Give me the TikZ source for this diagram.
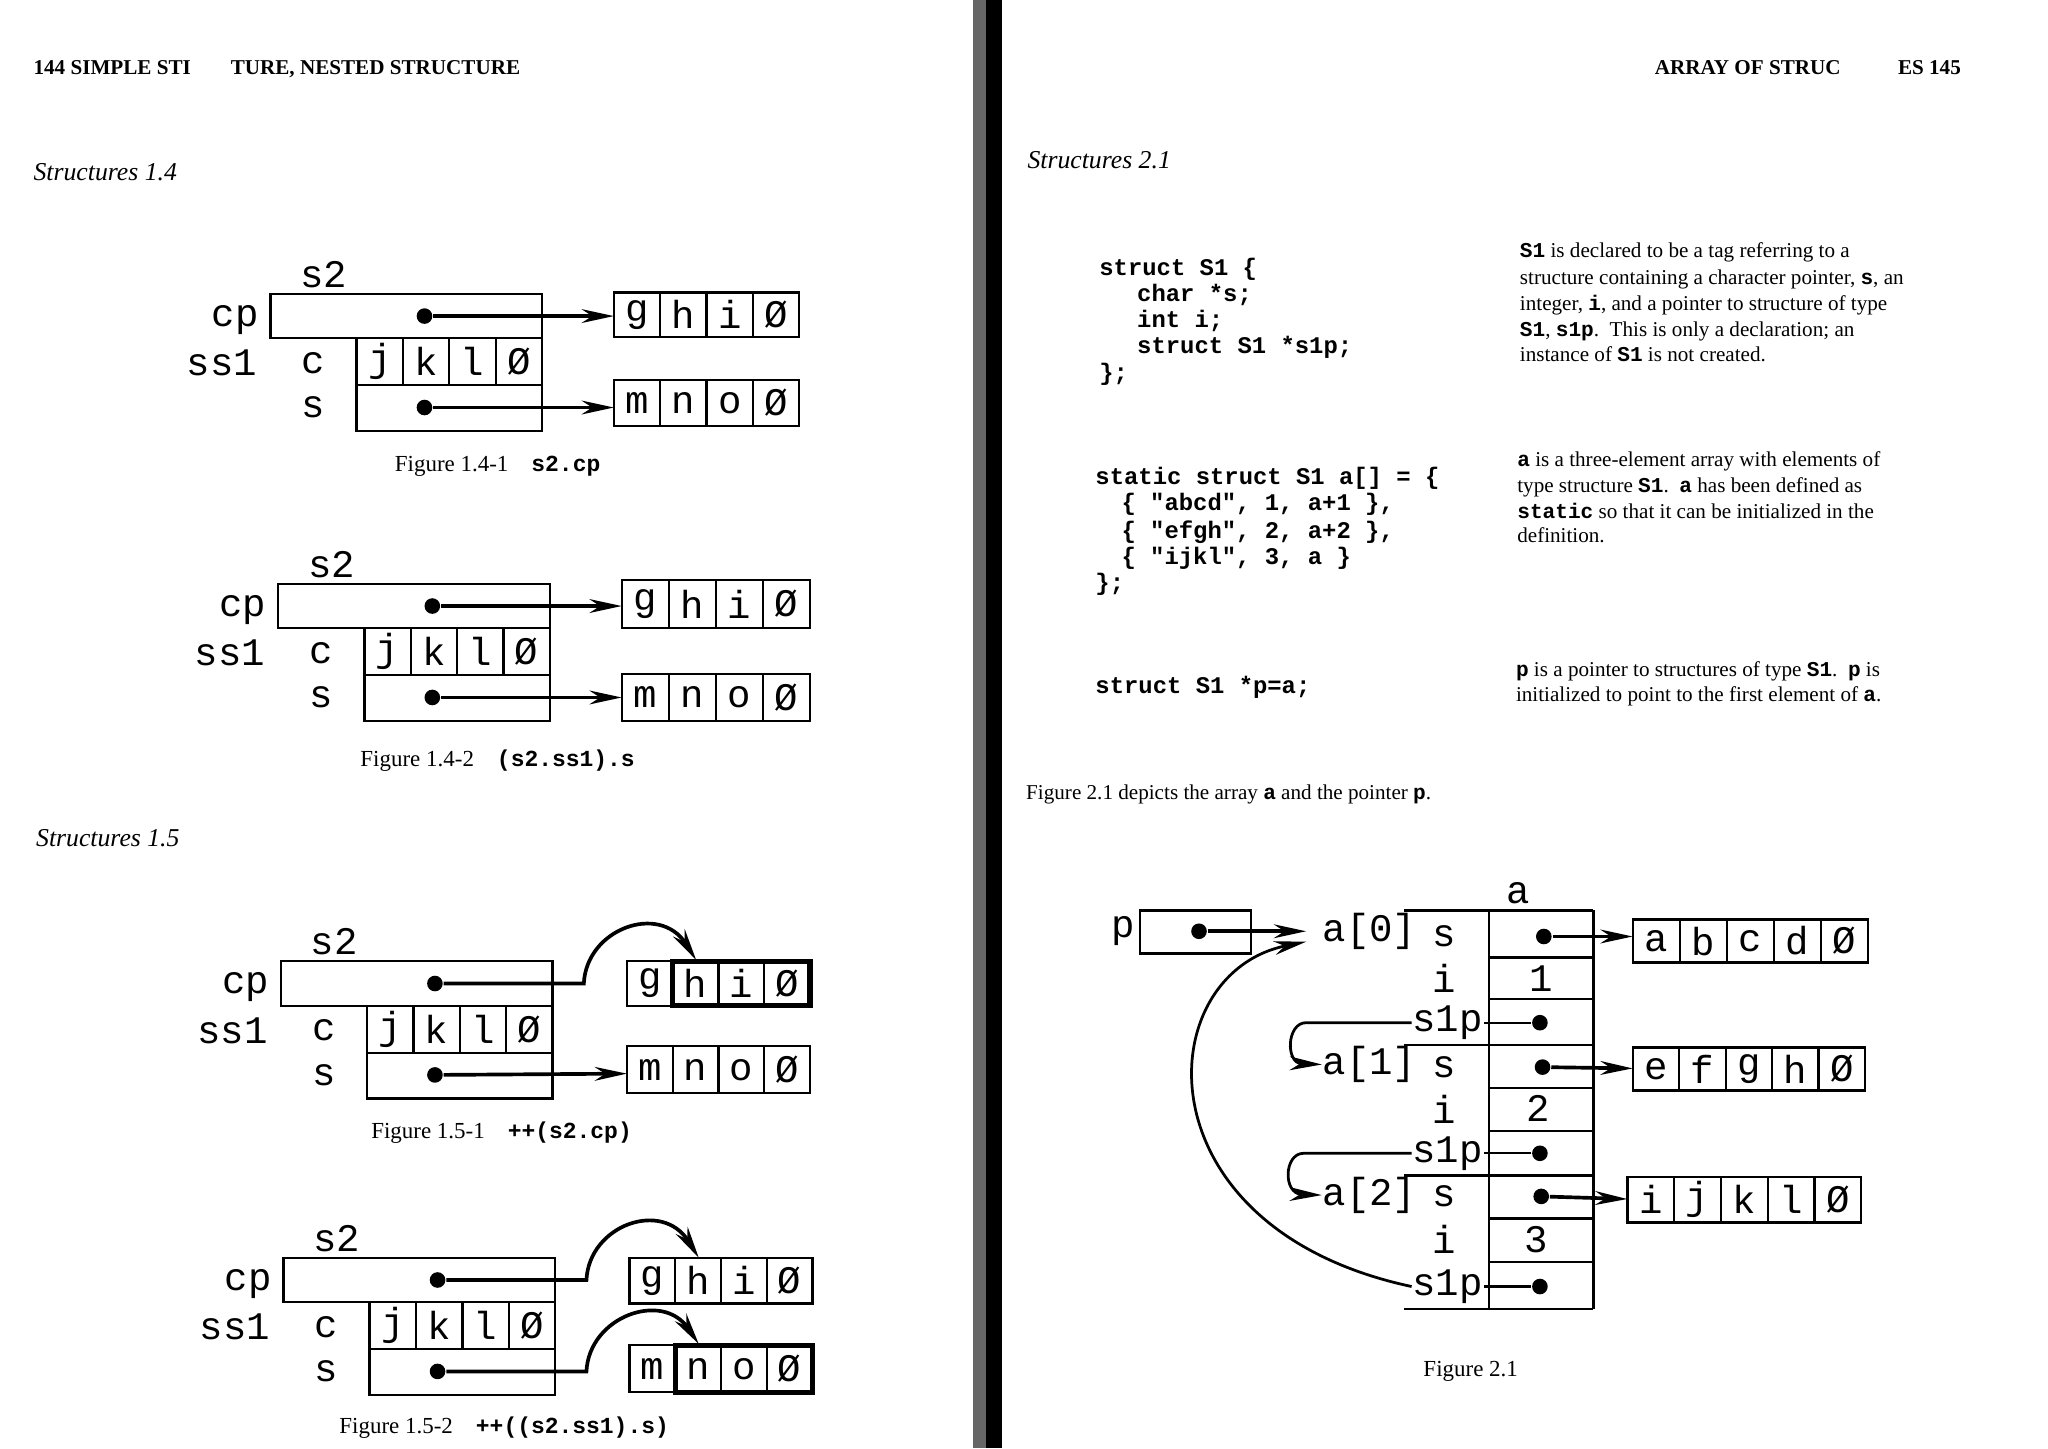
\documentclass[tikz,border=0pt]{standalone}
\usepackage{fontspec}
\setmainfont{Liberation Serif}
\setmonofont{Liberation Mono}
\usetikzlibrary{arrows.meta}
\newcommand\tb[1]{{\ttfamily\bfseries #1}}
\tikzset{
 big/.style={font=\fontsize{8.5}{8.5}\selectfont\ttfamily, inner sep=0pt},
 body/.style={font=\fontsize{4.6}{4.6}\selectfont, inner sep=0pt, anchor=base west},
 code/.style={font=\fontsize{5.2}{5.2}\selectfont\ttfamily\bfseries, inner sep=0pt, anchor=base west},
 figcap/.style={font=\fontsize{5}{5}\selectfont, inner sep=0pt},
 sec/.style={font=\fontsize{5.6}{5.6}\selectfont\itshape, inner sep=0pt, anchor=base west},
 hdr/.style={font=\fontsize{4.6}{4.6}\selectfont\bfseries, inner sep=0pt},
 ln/.style={line width=0.5pt},
 thk/.style={line width=1.2pt},
 ptr/.style={line width=0.8pt, -{Stealth[length=7pt,width=3pt]}},
 dot/.style={circle, fill=black, inner sep=0pt, minimum size=3.4pt},
}
\newcommand\strbox[5]{%
 \foreach \c [count=\k] in {#5} {
  \draw[ln] ({#1+(\k-1)*#3},#2) rectangle ({#1+\k*#3},{#2+#4});
  \node[big] at ({#1+(\k-0.5)*#3},{#2+#4/2}) {\c};
 }}
\newcommand\structtwo{%
 \node[big] (s2) at (41,-15) {s2};
 \node[big] (cp) at (-27,20) {cp};
 \node[big] (ss1) at (-37,53) {ss1};
 \node[big] (c) at (33,53) {c};
 \node[big] (s) at (33,87) {s};
 \draw[ln] (0,0) rectangle (208,34);
 \strbox{66}{34}{35.5}{36}{j,k,l,Ø}
 \draw[ln] (66,70) rectangle (208,105);
 \node[dot] (cpd) at (118,17) {};
 \node[dot] (sd) at (118,87) {};
}
\begin{document}
\begin{tikzpicture}[x=0.01cm,y=-0.01cm]
\useasboundingbox (0,0) rectangle (1568,1109);
\fill[white] (0,0) rectangle (1568,1109);
\fill[black] (755,0) rectangle (767,1109);
\fill[black!60] (745,0) rectangle (755,1109);
\node[hdr, anchor=base west] (h1) at (25,57) {144 SIMPLE STI};
\node[hdr, anchor=base west] (h2) at (176,57) {TURE, NESTED STRUCTURE};
\node[hdr, anchor=base east] (h3) at (1410,57) {ARRAY OF STRUC};
\node[hdr, anchor=base east] (h4) at (1502,57) {ES 145};
\node[sec] (sec14) at (25,138) {Structures 1.4};
\node[sec] (sec15) at (27,648) {Structures 1.5};
\node[sec] (sec21) at (786,129) {Structures 2.1};

\begin{scope}[shift={(207,225)}]
 \structtwo
 \begin{scope}[thk]\strbox{263}{-1}{35.5}{34}{g,h,i,Ø}\end{scope}
 \strbox{263}{66}{35.5}{35}{m,n,o,Ø}
 \draw[ptr] (cpd) -- (263,17);
 \draw[ptr] (sd) -- (263,87);
\end{scope}
\node[figcap] (c141) at (381,357) {Figure 1.4-1\quad\tb{s2.cp}};

\begin{scope}[shift={(213,447)}]
 \structtwo
 \strbox{263}{-3}{36}{37}{g,h,i,Ø}
 \begin{scope}[thk]\strbox{263}{69}{36}{36}{m,n,o,Ø}\end{scope}
 \draw[ptr] (cpd) -- (263,17);
 \draw[ptr] (sd) -- (263,87);
\end{scope}
\node[figcap] (c142) at (381,582) {Figure 1.4-2\quad\tb{(s2.ss1).s}};

\begin{scope}[shift={(215,736)}]
 \structtwo
 \strbox{265}{0}{35}{34}{g,h,i,Ø}
 \draw[thk] (300,0) rectangle (405,34);
 \strbox{265}{65}{35}{36}{m,n,o,Ø}
 \draw[ptr] (cpd) -- (232,17) .. controls (234,-25) and (290,-45) .. (318,-1);
 \draw[ptr] (sd) -- (265,86);
\end{scope}
\node[figcap] (c151) at (384,867) {Figure 1.5-1\quad\tb{++(s2.cp)}};

\begin{scope}[shift={(217,963)}]
 \structtwo
 \strbox{265}{0}{35}{35}{g,h,i,Ø}
 \strbox{265}{67}{35}{36}{m,n,o,Ø}
 \draw[thk] (300,67) rectangle (405,103);
 \draw[ptr] (cpd) -- (232,17) .. controls (234,-25) and (290,-45) .. (318,0);
 \draw[ptr] (sd) -- (232,87) .. controls (234,45) and (290,25) .. (318,66);
\end{scope}
\node[figcap] (c152) at (386,1093) {Figure 1.5-2\quad\tb{++((s2.ss1).s)}};

\node[code] (k1) at (841,211) {struct S1 \{};
\node[code] (k2) at (870,231) {char *s;};
\node[code] (k3) at (870,251) {int i;};
\node[code] (k4) at (870,271) {struct S1 *s1p;};
\node[code] (k5) at (841,291) {\};};
\node[code] (k6) at (838,371) {static struct S1 a[] = \{};
\node[code] (k7) at (858,391) {\{ "abcd", 1, a+1 \},};
\node[code] (k8) at (858,412) {\{ "efgh", 2, a+2 \},};
\node[code] (k9) at (858,432) {\{ "ijkl", 3, a \}};
\node[code] (k10) at (838,452) {\};};
\node[code] (k11) at (838,531) {struct S1 *p=a;};

\node[body] (t1) at (1163,197) {\tb{S1} is declared to be a tag referring to a};
\node[body] (t2) at (1163,218) {structure containing a character pointer, \tb{s}, an};
\node[body] (t3) at (1163,238) {integer, \tb{i}, and a pointer to structure of type};
\node[body] (t4) at (1163,258) {\tb{S1}, \tb{s1p}.\ \ This is only a declaration; an};
\node[body] (t5) at (1163,277) {instance of \tb{S1} is not created.};
\node[body] (u1) at (1161,357) {\tb{a} is a three-element array with elements of};
\node[body] (u2) at (1161,377) {type structure \tb{S1}.\ \ \tb{a} has been defined as};
\node[body] (u3) at (1161,397) {\tb{static} so that it can be initialized in the};
\node[body] (u4) at (1161,415) {definition.};
\node[body] (v1) at (1160,518) {\tb{p} is a pointer to structures of type \tb{S1}.\ \ \tb{p} is};
\node[body] (v2) at (1160,537) {initialized to point to the first element of \tb{a}.};
\node[body] (w1) at (785,612) {Figure 2.1 depicts the array \tb{a} and the pointer \tb{p}.};

\node[big] (alab) at (1162,684) {a};
\node[big] (plab) at (860,713) {p};
\draw[ln] (873,697) rectangle (958,730);
\node[dot] (pd) at (918,713) {};
\node[big,anchor=west] (a0) at (1012,713) {a[0]};
\node[big,anchor=west] (a1) at (1012,815) {a[1]};
\node[big,anchor=west] (a2) at (1012,915) {a[2]};
\draw[ln] (1140,697) -- (1140,1002) (1220,697) -- (1220,1002);
\foreach \yy in {733,765,833,866,933,966} \draw[ln] (1140,\yy) -- (1220,\yy);
\foreach \yy in {697,800,900,1002} \draw[ln] (1075,\yy) -- (1220,\yy);
\foreach \yy/\lb in {717/s,749/i,817/s,849/i,916/s,949/i} \node[big] at (1106,\yy) {\lb};
\node[big,anchor=east] (p1) at (1136,783) {s1p};
\node[big,anchor=east] (p2) at (1136,883) {s1p};
\node[big,anchor=east] (p3) at (1136,985) {s1p};
\node[big] at (1180,749) {1};
\node[big] at (1178,849) {2};
\node[big] at (1176,949) {3};
\foreach \yy/\nm in {783/d1,883/d2,985/d3} {\node[dot] (\nm) at (1179,\yy) {}; \draw[ln] (\nm) -- (1136,\yy);}
\node[dot] (sd0) at (1182,717) {};
\node[dot] (sd1) at (1181,817) {};
\node[dot] (sd2) at (1180,916) {};
\strbox{1250}{704}{36}{33}{a,b,c,d,Ø}
\strbox{1250}{802}{35.6}{33}{e,f,g,h,Ø}
\strbox{1246}{901}{35.8}{35}{i,j,k,l,Ø}
\draw[ptr] (sd0) -- (1250,717);
\draw[ptr] (sd1) -- (1250,818);
\draw[ptr] (sd2) -- (1246,918);
\draw[ptr] (pd) -- (1000,713);
\draw[ptr,line width=0.6pt] (p1.west) -- (1000,783) .. controls (985,783) and (984,814) .. (1012,815);
\draw[ptr,line width=0.6pt] (p2.west) -- (998,883) .. controls (983,883) and (982,914) .. (1012,915);
\draw[ptr,line width=0.6pt] (p3.west) .. controls (870,940) and (880,745) .. (1000,721);
\node[figcap] (c21) at (1126,1050) {Figure 2.1};
\end{tikzpicture}
\end{document}
